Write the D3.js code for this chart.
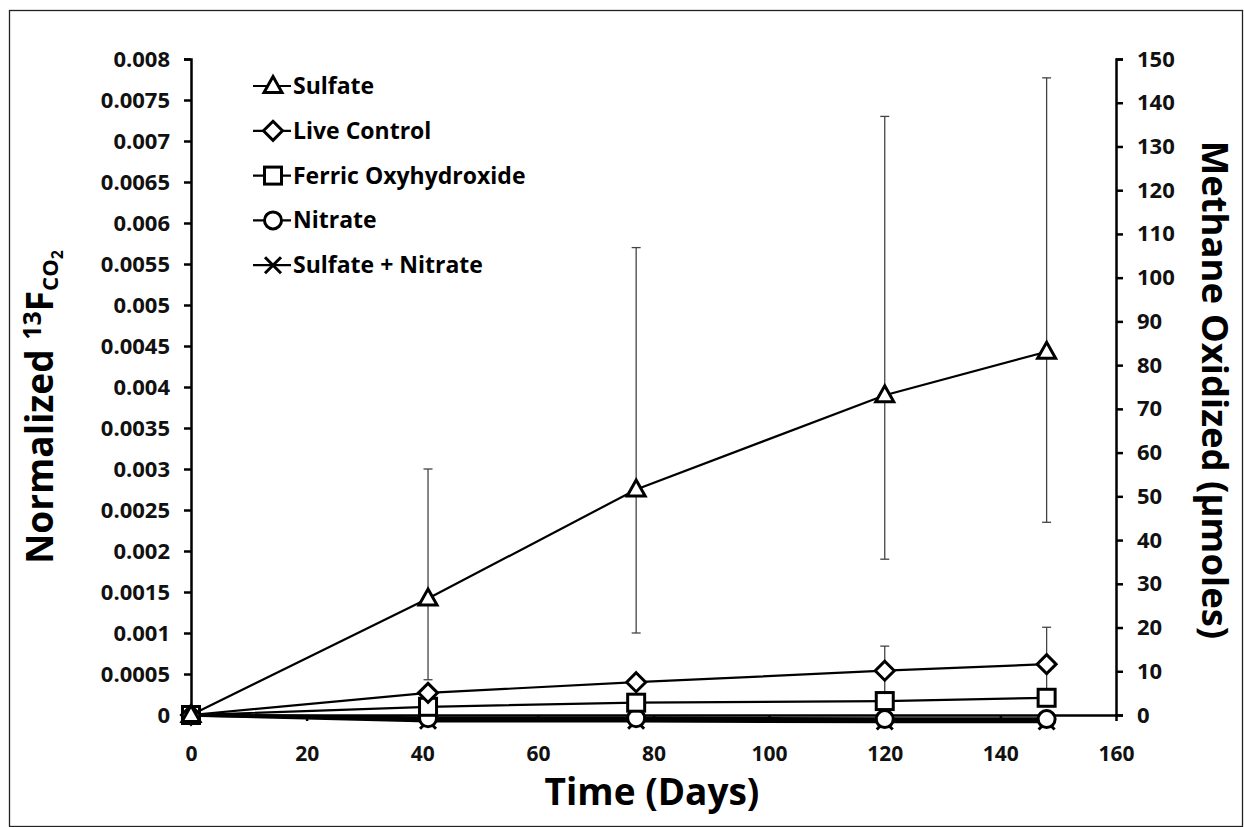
<!DOCTYPE html>
<html>
<head>
<meta charset="utf-8">
<script src="https://cdn.jsdelivr.net/npm/d3@7"></script>
<style>
  body { margin: 0; background: #fff; }
  svg { display: block; font-family: "Open Sans", sans-serif; }
</style>
</head>
<body>
<div id="chart"></div>
<script>
// chart data
var days = [0, 41, 77, 120, 148];
var sulfate = [0, 0.00142, 0.00275, 0.0039, 0.00443];
var sulfateHi = [0, 0.0030, 0.0057, 0.0073, 0.00777];
var sulfateLo = [0, 0.00043, 0.0010, 0.0019, 0.00235];
var liveControl = [0, 0.00027, 0.0004, 0.00054, 0.00062];
var liveHi = [0, 0.00027, 0.0004, 0.00084, 0.00107];
var liveLo = [0, 0.00027, 0.0004, 0.00024, 0.00017];
var ferric = [0, 0.0001, 0.00015, 0.00017, 0.00021];
var nitrate = [0, -0.00004, -0.00004, -0.00005, -0.00005];
var sulfNitrate = [0, -0.00007, -0.00007, -0.00008, -0.00008];
var seriesNames = ["Sulfate", "Live Control", "Ferric Oxyhydroxide", "Nitrate", "Sulfate + Nitrate"];
var leftTicks = [0, 0.0005, 0.001, 0.0015, 0.002, 0.0025, 0.003, 0.0035, 0.004, 0.0045, 0.005, 0.0055, 0.006, 0.0065, 0.007, 0.0075, 0.008];
var rightTicks = [0, 10, 20, 30, 40, 50, 60, 70, 80, 90, 100, 110, 120, 130, 140, 150];
var xTicks = [0, 20, 40, 60, 80, 100, 120, 140, 160];

var W = 1244, H = 827;
var svg = d3.select("#chart").append("svg").attr("width", W).attr("height", H);

// outer frame
svg.append("rect").attr("x", 9.5).attr("y", 10.5).attr("width", 1233).attr("height", 816)
  .attr("fill", "none").attr("stroke", "#222").attr("stroke-width", 1.3);

var x = d3.scaleLinear().domain([0, 160]).range([191, 1116]);
var y = d3.scaleLinear().domain([0, 0.008]).range([715, 59]);
var y2 = d3.scaleLinear().domain([0, 150]).range([715, 59]);

function styleAxis(g, size) {
  g.selectAll("path").attr("stroke", "#000").attr("stroke-width", 2.5);
  g.selectAll("line").attr("stroke", "#000").attr("stroke-width", 2.5);
  g.selectAll("text").attr("font-size", size).attr("font-weight", "bold").attr("fill", "#111")
    .attr("font-family", "'Open Sans', sans-serif");
}

// left axis
var gl = svg.append("g").attr("transform", "translate(191,0)")
  .call(d3.axisLeft(y).tickValues(leftTicks).tickSize(7).tickSizeOuter(7).tickPadding(14)
    .tickFormat(function(d){ return d === 0 ? "0" : String(+d.toFixed(4)); }));
styleAxis(gl, 22);

// right axis
var gr = svg.append("g").attr("transform", "translate(1116,0)")
  .call(d3.axisRight(y2).tickValues(rightTicks).tickSize(7).tickSizeOuter(7).tickPadding(14));
styleAxis(gr, 22);

// bottom axis (line at zero, labels placed low)
var gb = svg.append("g").attr("transform", "translate(0,715)")
  .call(d3.axisBottom(x).tickValues(xTicks).tickSize(6).tickSizeOuter(0).tickPadding(25));
styleAxis(gb, 21);

// axis titles
svg.append("text").attr("x", 652).attr("y", 805).attr("text-anchor", "middle")
  .attr("font-size", 37).attr("font-weight", "bold").text("Time (Days)");

var lt = svg.append("text").attr("transform", "translate(53,407) rotate(-90)")
  .attr("text-anchor", "middle").attr("font-size", 37).attr("font-weight", "bold");
lt.append("tspan").text("Normalized ");
lt.append("tspan").attr("font-size", 25).attr("dy", -12).text("13");
lt.append("tspan").attr("dy", 12).text("F");
lt.append("tspan").attr("font-size", 22).attr("dy", 5).text("CO");
lt.append("tspan").attr("font-size", 16).attr("dy", 5).text("2");

svg.append("text").attr("transform", "translate(1202,390) rotate(90)")
  .attr("text-anchor", "middle").attr("font-size", 36.5).attr("font-weight", "bold")
  .text("Methane Oxidized (\u03bcmoles)");

// error bars
function errorBars(vals, lo, hi) {
  var g = svg.append("g");
  days.forEach(function(d, i) {
    if (hi[i] === lo[i]) return;
    g.append("line").attr("x1", x(d)).attr("x2", x(d)).attr("y1", y(lo[i])).attr("y2", y(hi[i]))
      .attr("stroke", "#444").attr("stroke-width", 1.3);
    [lo[i], hi[i]].forEach(function(v) {
      g.append("line").attr("x1", x(d) - 4.5).attr("x2", x(d) + 4.5).attr("y1", y(v)).attr("y2", y(v))
        .attr("stroke", "#444").attr("stroke-width", 1.3);
    });
  });
}
errorBars(sulfate, sulfateLo, sulfateHi);
errorBars(liveControl, liveLo, liveHi);

var line = d3.line().x(function(d, i){ return x(days[i]); }).y(function(d){ return y(d); });

var allSeries = [
  { vals: sulfNitrate, sym: "x" },
  { vals: nitrate, sym: "circle" },
  { vals: ferric, sym: "square" },
  { vals: liveControl, sym: "diamond" },
  { vals: sulfate, sym: "triangle" }
];

function drawMarker(g, sym, cx, cy) {
  var m;
  if (sym === "triangle") {
    m = g.append("path").attr("d", "M" + cx + "," + (cy - 9.5) + "L" + (cx + 9) + "," + (cy + 6.5) + "L" + (cx - 9) + "," + (cy + 6.5) + "Z");
  } else if (sym === "diamond") {
    m = g.append("path").attr("d", "M" + cx + "," + (cy - 9.5) + "L" + (cx + 9.5) + "," + cy + "L" + cx + "," + (cy + 9.5) + "L" + (cx - 9.5) + "," + cy + "Z");
  } else if (sym === "square") {
    m = g.append("rect").attr("x", cx - 8.5).attr("y", cy - 8.5).attr("width", 17).attr("height", 17);
  } else if (sym === "circle") {
    m = g.append("circle").attr("cx", cx).attr("cy", cy).attr("r", 8.5);
  } else {
    m = g.append("path").attr("d", "M" + (cx - 8) + "," + (cy - 8) + "L" + (cx + 8) + "," + (cy + 8) + "M" + (cx + 8) + "," + (cy - 8) + "L" + (cx - 8) + "," + (cy + 8));
  }
  m.attr("fill", sym === "x" ? "none" : "#fff").attr("stroke", "#000").attr("stroke-width", 3);
}

allSeries.forEach(function(s) {
  svg.append("path").datum(s.vals).attr("d", line)
    .attr("fill", "none").attr("stroke", "#000").attr("stroke-width", s.sym === "x" || s.sym === "circle" ? 3.5 : 2.2);
});
allSeries.forEach(function(s) {
  var g = svg.append("g");
  s.vals.forEach(function(v, i) { drawMarker(g, s.sym, x(days[i]), y(v)); });
});

// legend
var legSyms = ["triangle", "diamond", "square", "circle", "x"];
var leg = svg.append("g");
seriesNames.forEach(function(name, i) {
  var ly = 86 + i * 44.8;
  leg.append("line").attr("x1", 253).attr("x2", 291).attr("y1", ly).attr("y2", ly)
    .attr("stroke", "#000").attr("stroke-width", 2.2);
  drawMarker(leg, legSyms[i], 273, ly);
  leg.append("text").attr("x", 293).attr("y", ly).attr("dy", "0.35em")
    .attr("font-size", 23).attr("font-weight", "bold").text(name);
});
</script>
</body>
</html>
